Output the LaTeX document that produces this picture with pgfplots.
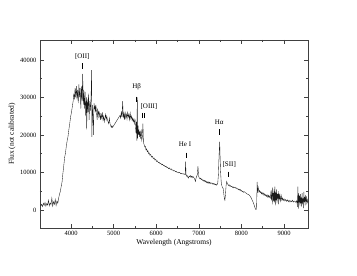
\documentclass[border=0pt]{standalone}
\usepackage{fontspec}
\setmainfont{Liberation Serif}
\usepackage{pgfplots}
\pgfplotsset{compat=1.18}
\begin{document}
\begin{tikzpicture}[x=1pt,y=1pt]
\path[use as bounding box] (0,0) rectangle (357,276);
\begin{axis}[at={(40pt,48pt)}, anchor=south west, width=268pt, height=188pt, scale only axis,
  xmin=3272, xmax=9563, ymin=-4800, ymax=45300,
  xtick={4000,5000,6000,7000,8000,9000}, minor x tick num=1,
  ytick={0,10000,20000,30000,40000}, minor y tick num=1,
  scaled ticks=false,
  /pgf/number format/assume math mode=true,
  /pgf/number format/set thousands separator={},
  tick align=inside, major tick length=4pt, minor tick length=2pt,
  axis line style={black!75, line width=0.5pt},
  every tick/.style={black!75, line width=0.5pt},
  tick label style={font=\fontsize{6.5}{7}\selectfont},
  label style={font=\fontsize{7.5}{8}\selectfont},
  xlabel={Wavelength (Angstroms)}, ylabel={Flux (not calibrated)},
  xlabel style={yshift=3pt}, ylabel style={yshift=-2pt},
  clip=true]
\addplot[black!90, line width=0.35pt] coordinates {
(3290,1100) (3310,1500) (3330,900) (3350,1800) (3370,1200) (3390,2000) (3410,1000) (3430,1700) (3450,1300) (3470,2600) (3490,1100) (3510,1900) (3530,1400) (3550,3200) (3570,1000) (3590,2200) (3610,1500) (3630,2800) (3650,1200) (3670,2400) (3690,1800) (3710,3200) (3730,4200) (3750,5000) (3770,6300) (3790,7500) (3810,9800) (3830,11800) (3850,14000) (3870,15200) (3890,17000) (3910,18500) (3930,19600) (3950,21500) (3970,23000) (3990,24800) (4010,26000) (4030,27500)
(4050,29000) (4065,31000) (4080,29500) (4095,32500) (4110,30000) (4125,33000) (4140,29500) (4155,32000) (4170,28500) (4185,33500) (4200,30000) (4215,32500) (4230,27000) (4245,33000) (4260,29000) (4274,36300) (4288,28000) (4300,32000) (4315,27000) (4330,31500) (4345,25000) (4360,30000) (4368,21500) (4380,29500) (4395,26000) (4410,31000) (4425,24000) (4440,29000) (4455,26500) (4470,30000) (4485,37300) (4490,19500) (4500,28000) (4515,25000) (4525,20000) (4540,28500) (4555,27000)
(4565,27500) (4575,26000) (4585,28000) (4595,26500) (4605,25000) (4615,24000) (4625,27000) (4635,25500) (4645,26500) (4655,24500) (4665,25500) (4675,26000) (4690,24000) (4705,25500) (4720,24500) (4735,26000) (4750,24000) (4765,25000) (4780,23500) (4795,24500) (4810,25500) (4825,24000) (4840,25000) (4855,24000) (4870,23500) (4885,23000) (4900,24500) (4915,23000) (4930,22500) (4945,22000) (4960,22500) (4975,22000)
(5150,25200) (5165,24500) (5180,26000) (5195,24800) (5213,29000) (5225,24500) (5240,25800) (5255,24000) (5270,26200) (5285,24500) (5300,25500) (5315,24200) (5330,26000) (5345,24800) (5360,25500) (5375,24000) (5390,25800) (5405,24300) (5420,25000) (5435,23800) (5450,24500) (5465,23500) (5480,24200) (5495,23000) (5505,23800) (5515,22000) (5525,20500) (5535,23500) (5545,18500) (5556,30000) (5565,19000) (5575,22500) (5585,20000) (5595,21500) (5605,19500) (5620,21000) (5635,19000) (5648,21500) (5660,18500) (5675,19500) (5688,23000) (5700,18000) (5715,17500) (5730,16800) (5745,17000) (5760,16000) (5775,16300) (5790,15500) (5805,15800) (5820,15000) (5835,15200) (5850,14600) (5870,14800) (5890,14100) (5910,14300) (5930,13700) (5950,13900) (5970,13300) (5990,13500) (6010,12900) (6030,13100) (6050,12600) (6070,12700) (6090,12300) (6110,12400) (6130,12000) (6150,12200) (6170,11800) (6190,11900) (6210,11500) (6230,11700) (6250,11300) (6270,11400) (6290,11000) (6310,11200) (6330,10800) (6350,11000) (6370,10600) (6390,10700) (6410,10400) (6430,10500) (6450,10200) (6470,10300) (6490,10000) (6510,10100) (6530,9900) (6550,10000) (6570,9700) (6590,9800) (6610,9600) (6630,9700) (6650,9500) (6665,9600) (6680,9400) (6690,12900) (6700,9500) (6710,9000) (6725,9200) (6740,8800) (6755,8500) (6770,9000) (6785,8900) (6800,9200) (6815,8700) (6830,9000) (6845,8600) (6860,9000) (6875,8700) (6890,8500) (6905,8200) (6920,7600) (6935,8500) (6950,9000) (6965,9400) (6980,11700) (6995,9000) (7010,8600) (7025,8300) (7040,8500) (7055,8100) (7070,8300) (7085,7900) (7100,8000) (7115,7700) (7130,7900) (7145,7500) (7160,7800) (7175,7300) (7190,7600) (7205,7200) (7220,7500) (7235,7100) (7250,7400) (7265,7000) (7280,7300) (7295,7100) (7310,7200) (7325,6900) (7340,7100) (7355,6800) (7370,7000) (7385,6700) (7400,6900) (7415,6600) (7430,6800) (7445,7200) (7460,9500) (7475,14500) (7490,18200) (7500,14000) (7510,10500) (7525,7500) (7540,6500) (7555,6000) (7570,5800) (7585,4500) (7600,3000) (7612,2600) (7625,4000) (7640,6500) (7655,7600) (7670,7000) (7685,6800) (7700,6500) (7715,6700) (7730,6300) (7745,6500) (7760,6200) (7775,6300) (7790,6000) (7805,6200) (7820,5900) (7835,6000) (7850,6100) (7865,5800) (7880,5900) (7895,5600) (7910,5700) (7925,5400) (7940,5600) (7955,5300) (7970,5500) (7985,5100) (8000,5200) (8015,4900) (8030,5000) (8045,4700) (8060,4900) (8075,4800) (8090,4600) (8110,4500) (8130,4300) (8150,4200) (8170,4100) (8190,3900) (8210,3600) (8230,3200) (8250,2700) (8270,2200) (8290,1600) (8310,900) (8325,400) (8340,100) (8355,300) (8370,7500) (8380,5000) (8395,6000) (8410,4800) (8425,5200) (8440,4600) (8455,4900) (8470,4300) (8485,4700) (8500,4200) (8515,4500) (8530,3900) (8545,4300) (8560,3800) (8575,4100) (8590,3600) (8605,4000) (8620,3400) (8635,3900) (8650,3300) (8665,3700) (8680,3200) (8695,5200) (8705,2500) (8715,3800) (8725,6000) (8735,1500) (8745,4500) (8755,2500) (8765,5500) (8775,2000) (8785,6200) (8795,1200) (8805,4800) (8815,2600) (8825,5500) (8835,1800) (8845,4200) (8855,3000) (8865,5000) (8875,1500) (8885,4200) (8895,2800) (8905,4000) (8920,2400) (8935,3800) (8950,2600) (8965,3200) (8980,2500) (9000,3000) (9020,2400) (9040,2800) (9060,2300) (9080,2700) (9100,2200) (9120,2600) (9140,2100) (9160,2500) (9180,2200) (9200,2600) (9220,2100) (9240,2400) (9260,2300) (9280,2000) (9300,2500) (9315,800) (9325,6200) (9335,300) (9345,4500) (9355,2000) (9365,3800) (9375,1000) (9385,4200) (9395,1800) (9405,3500) (9415,900) (9425,4500) (9435,1500) (9445,3000) (9455,500) (9465,4800) (9475,2000) (9485,3500) (9495,1200) (9505,4000) (9515,2200) (9525,3600) (9535,1500) (9545,3000) (9555,2000)
};
\begin{scope}[every node/.style={font=\fontsize{7}{8}\selectfont, inner sep=0pt}]
\node at (axis cs:4265,40900) {[OII]};
\draw[line width=0.6pt] (axis cs:4265,39100) -- (axis cs:4265,37600);
\node at (axis cs:5541,32700) {Hβ};
\draw[line width=0.6pt] (axis cs:5541,30200) -- (axis cs:5541,28900);
\node at (axis cs:5830,27600) {[OIII]};
\draw[line width=0.5pt] (axis cs:5680,25900) -- (axis cs:5680,24400);
\draw[line width=0.5pt] (axis cs:5725,25900) -- (axis cs:5725,24400);
\node at (axis cs:6675,17500) {He I};
\draw[line width=0.6pt] (axis cs:6695,15300) -- (axis cs:6695,13800);
\node at (axis cs:7480,23400) {Hα};
\draw[line width=0.6pt] (axis cs:7480,21500) -- (axis cs:7480,20000);
\node at (axis cs:7715,12000) {[SII]};
\draw[line width=0.6pt] (axis cs:7685,10200) -- (axis cs:7685,8700);
\end{scope}
\end{axis}
\end{tikzpicture}
\end{document}
